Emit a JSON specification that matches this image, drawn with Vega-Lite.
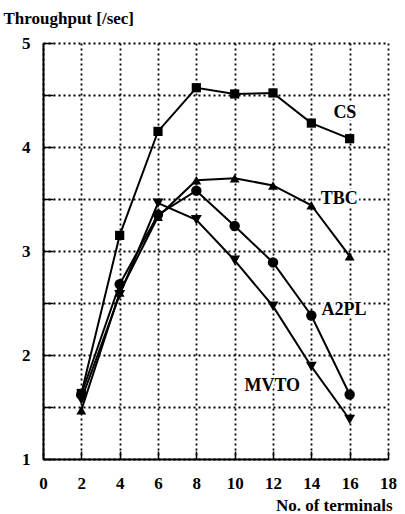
{
  "$schema": "https://vega.github.io/schema/vega-lite/v6.json",
  "autosize": "none",
  "width": 345,
  "height": 416,
  "padding": {"left": 43, "top": 43, "right": 17, "bottom": 55},
  "background": "white",
  "config": {
    "view": {"stroke": null},
    "font": "Liberation Serif",
    "axis": {
      "labelFont": "Liberation Serif",
      "titleFont": "Liberation Serif",
      "labelFontWeight": "bold",
      "titleFontWeight": "bold",
      "labelColor": "black",
      "titleColor": "black",
      "labelFontSize": 17,
      "titleFontSize": 17,
      "labelOverlap": false,
      "domainColor": "black",
      "domainWidth": 2,
      "tickColor": "black",
      "tickWidth": 1.5,
      "gridColor": "black",
      "gridDash": [2, 3],
      "gridWidth": 1.8,
      "gridOpacity": 1
    }
  },
  "datasets": {
    "series": [
      {"algo": "CS", "terminals": 2, "throughput": 1.63},
      {"algo": "CS", "terminals": 4, "throughput": 3.15},
      {"algo": "CS", "terminals": 6, "throughput": 4.15},
      {"algo": "CS", "terminals": 8, "throughput": 4.57},
      {"algo": "CS", "terminals": 10, "throughput": 4.51},
      {"algo": "CS", "terminals": 12, "throughput": 4.52},
      {"algo": "CS", "terminals": 14, "throughput": 4.23},
      {"algo": "CS", "terminals": 16, "throughput": 4.08},
      {"algo": "TBC", "terminals": 2, "throughput": 1.47},
      {"algo": "TBC", "terminals": 4, "throughput": 2.6},
      {"algo": "TBC", "terminals": 6, "throughput": 3.33},
      {"algo": "TBC", "terminals": 8, "throughput": 3.68},
      {"algo": "TBC", "terminals": 10, "throughput": 3.7},
      {"algo": "TBC", "terminals": 12, "throughput": 3.63},
      {"algo": "TBC", "terminals": 14, "throughput": 3.44},
      {"algo": "TBC", "terminals": 16, "throughput": 2.95},
      {"algo": "A2PL", "terminals": 2, "throughput": 1.62},
      {"algo": "A2PL", "terminals": 4, "throughput": 2.68},
      {"algo": "A2PL", "terminals": 6, "throughput": 3.35},
      {"algo": "A2PL", "terminals": 8, "throughput": 3.58},
      {"algo": "A2PL", "terminals": 10, "throughput": 3.24},
      {"algo": "A2PL", "terminals": 12, "throughput": 2.89},
      {"algo": "A2PL", "terminals": 14, "throughput": 2.38},
      {"algo": "A2PL", "terminals": 16, "throughput": 1.62},
      {"algo": "MVTO", "terminals": 2, "throughput": 1.57},
      {"algo": "MVTO", "terminals": 4, "throughput": 2.58},
      {"algo": "MVTO", "terminals": 6, "throughput": 3.46},
      {"algo": "MVTO", "terminals": 8, "throughput": 3.3},
      {"algo": "MVTO", "terminals": 10, "throughput": 2.91},
      {"algo": "MVTO", "terminals": 12, "throughput": 2.47},
      {"algo": "MVTO", "terminals": 14, "throughput": 1.89},
      {"algo": "MVTO", "terminals": 16, "throughput": 1.38}
    ],
    "labels": [
      {"name": "CS", "terminals": 15.75, "throughput": 4.33},
      {"name": "TBC", "terminals": 15.45, "throughput": 3.5},
      {"name": "A2PL", "terminals": 15.7, "throughput": 2.43},
      {"name": "MVTO", "terminals": 11.96, "throughput": 1.7}
    ]
  },
  "encoding": {
    "x": {
      "field": "terminals", "type": "quantitative",
      "scale": {"domain": [0, 18], "nice": false},
      "axis": {
        "values": [0, 2, 4, 6, 8, 10, 12, 14, 16, 18],
        "format": "d",
        "labelOverlap": false,
        "labelBound": false,
        "labelFlush": false,
        "title": "No. of terminals",
        "titleAlign": "right",
        "titleBaseline": "alphabetic",
        "titleX": 349,
        "titleY": 51,
        "labelPadding": 24,
        "tickSize": -8,
        "grid": true
      }
    },
    "y": {
      "field": "throughput", "type": "quantitative",
      "scale": {"domain": [1, 5], "nice": false},
      "axis": {
        "values": [1, 1.5, 2, 2.5, 3, 3.5, 4, 4.5, 5],
        "labelExpr": "datum.value % 1 === 0 ? format(datum.value, 'd') : ''",
        "labelOverlap": false,
        "labelFlush": false,
        "labelAlign": "right",
        "title": "Throughput [/sec]",
        "titleAngle": 0,
        "titleAlign": "left",
        "titleBaseline": "alphabetic",
        "titleX": -40,
        "titleY": -20,
        "labelPadding": 23,
        "tickSize": -10,
        "grid": true
      }
    }
  },
  "layer": [
    {
      "data": {"name": "series"},
      "mark": {"type": "line", "color": "black", "strokeWidth": 2},
      "encoding": {
        "detail": {"field": "algo"}
      }
    },
    {
      "data": {"name": "series"},
      "mark": {"type": "point", "filled": true, "color": "black", "opacity": 1},
      "encoding": {
        "shape": {
          "field": "algo", "type": "nominal",
          "scale": {"domain": ["CS", "TBC", "A2PL", "MVTO"], "range": ["square", "triangle-up", "circle", "triangle-down"]},
          "legend": null
        },
        "size": {
          "field": "algo", "type": "nominal",
          "scale": {"domain": ["CS", "TBC", "A2PL", "MVTO"], "range": [85, 120, 80, 120]},
          "legend": null
        }
      }
    },
    {
      "data": {"name": "labels"},
      "mark": {"type": "text", "font": "Liberation Serif", "fontWeight": "bold", "fontSize": 18, "color": "white", "stroke": "white", "strokeWidth": 5, "align": "center", "baseline": "middle"},
      "encoding": {
        "text": {"field": "name"}
      }
    },
    {
      "data": {"name": "labels"},
      "mark": {"type": "text", "font": "Liberation Serif", "fontWeight": "bold", "fontSize": 18, "color": "black", "align": "center", "baseline": "middle"},
      "encoding": {
        "text": {"field": "name"}
      }
    }
  ]
}
